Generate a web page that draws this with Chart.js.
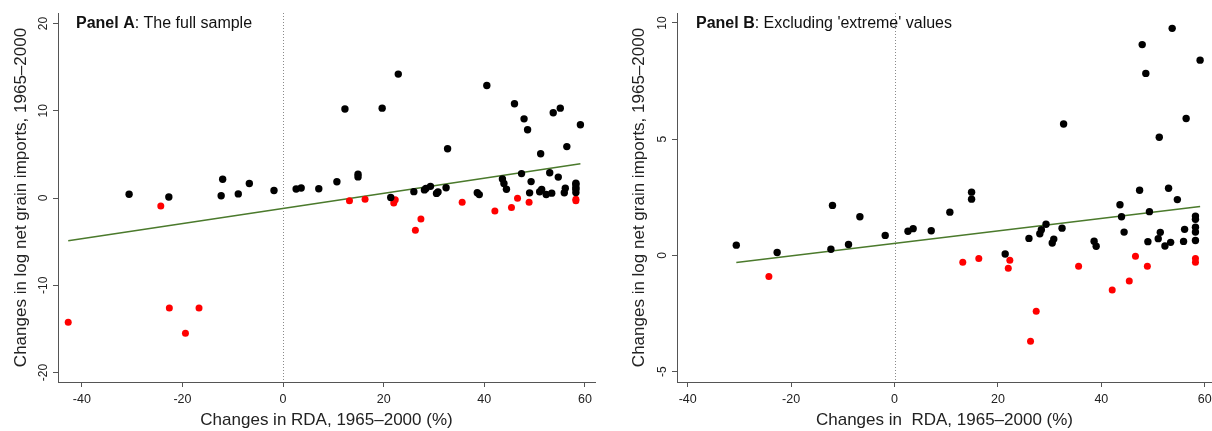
<!DOCTYPE html>
<html><head><meta charset="utf-8">
<script src="https://cdn.jsdelivr.net/npm/chart.js@4"></script>
<style>
html,body{margin:0;padding:0;background:#fff;overflow:hidden;width:1212px;height:431px}
#a{position:absolute;left:0;top:0}
#b{position:absolute;left:600px;top:0}
</style></head><body>
<canvas id="a" width="600" height="431"></canvas>
<canvas id="b" width="630" height="431"></canvas>
<script>
// ---- data ----
// countries kept in both panels (black)
const blackRDA = [-30.6,-22.7,-12.3,-12.0,-8.9,-6.7,-1.8,2.6,3.6,7.1,10.7,14.9,14.9,21.4,26.0,28.1,28.4,29.3,30.5,30.8,32.4,32.7,38.6,39.0,43.6,43.9,44.4,47.4,47.9,48.6,49.0,49.3,51.0,51.4,51.2,52.3,53.0,53.4,53.7,54.7,55.9,56.1,56.4,58.2,58.2,58.2,58.2,58.2,59.1];
const blackImports = [0.44,0.12,0.26,2.15,0.47,1.66,0.86,1.04,1.15,1.06,1.86,2.72,2.42,0.06,0.73,0.93,1.10,1.34,0.53,0.70,1.17,5.65,0.61,0.39,2.18,1.66,1.00,2.80,9.07,7.83,0.59,1.88,0.72,0.99,5.08,0.40,2.89,0.56,9.77,2.40,0.60,1.12,5.89,1.69,1.55,1.21,1.00,0.64,8.40];
// countries kept in both panels (red)
const redRDA = [-24.3,13.2,16.3,22.3,22.0,26.3,27.4,35.6,42.1,45.4,46.6,48.9,58.2,58.2];
const redImports = [-0.91,-0.30,-0.14,-0.21,-0.56,-3.70,-2.40,-0.47,-1.49,-1.10,-0.04,-0.47,-0.14,-0.30];
// 'extreme' values, only in Panel A
const extremeBlackRDA = [12.3,19.7,22.9,40.5,46.0,55.1];
const extremeBlackImports = [10.2,10.3,14.2,12.9,10.8,10.3];
const extremeRedRDA = [-42.7,-22.6,-19.4,-16.7];
const extremeRedImports = [-14.24,-12.6,-15.5,-12.6];
// fitted lines (end points)
const fitARDA = [-42.7,59.1];
const fitAImports = [-4.89,3.93];
const fitBRDA = [-30.6,59.1];
const fitBImports = [-0.31,2.10];
// axes
const xTicks = [-40,-20,0,20,40,60];
const yTicksA = [-20,-10,0,10,20];
const yTicksB = [-5,0,5,10];
const xRangeA = [-44.73,62.0];
const yRangeA = [-21.08,21.2];
const xRangeB = [-42.07,61.4];
const yRangeB = [-5.45,10.43];
const refLineX = 0;

const FONT = '"Liberation Sans", Arial, Helvetica, sans-serif';
const zip = (xs, ys) => xs.map((x, i) => ({x, y: ys[i]}));

const rotYTicks = {
  id: 'rotYTicks',
  afterDraw(chart) {
    const ys = chart.scales.y, ctx = chart.ctx;
    ctx.save();
    ctx.font = '12px ' + FONT;
    ctx.fillStyle = '#222';
    ctx.textAlign = 'center';
    ctx.textBaseline = 'alphabetic';
    ys.ticks.forEach(t => {
      const py = ys.getPixelForValue(t.value);
      ctx.save();
      ctx.translate(ys.right - 11.5, py);
      ctx.rotate(-Math.PI / 2);
      ctx.fillText(String(t.value), 0, 0);
      ctx.restore();
    });
    ctx.restore();
  }
};
const refLine = {
  id: 'refLine',
  beforeDatasetsDraw(chart) {
    const xs = chart.scales.x, ca = chart.chartArea, ctx = chart.ctx;
    const px = Math.round(xs.getPixelForValue(refLineX)) + 0.5;
    ctx.save();
    ctx.strokeStyle = '#8a8a8a';
    ctx.lineWidth = 1;
    ctx.setLineDash([1, 2]);
    ctx.beginPath();
    ctx.moveTo(px, ca.top);
    ctx.lineTo(px, ca.bottom);
    ctx.stroke();
    ctx.restore();
  }
};
const panelTitle = {
  id: 'panelTitle',
  afterDraw(chart, args, opts) {
    const ctx = chart.ctx, ca = chart.chartArea;
    ctx.save();
    ctx.fillStyle = '#111';
    ctx.textBaseline = 'middle';
    ctx.textAlign = 'left';
    const x0 = ca.left + opts.dx, y0 = 24;
    ctx.font = 'bold 16px ' + FONT;
    ctx.fillText(opts.bold, x0, y0);
    const w = ctx.measureText(opts.bold).width;
    ctx.font = '16px ' + FONT;
    ctx.fillText(opts.rest, x0 + w, y0);
    ctx.restore();
  }
};

function makeChart(id, cfg) {
  const datasets = [
    {type: 'line', data: zip(cfg.fitX, cfg.fitY), borderColor: '#4b7a2c', borderWidth: 1.6, pointRadius: 0, fill: false, order: 3},
    {type: 'scatter', data: cfg.black, backgroundColor: '#000', borderColor: '#000', borderWidth: 0, pointRadius: 3.7, order: 1},
    {type: 'scatter', data: cfg.red, backgroundColor: '#ff0000', borderColor: '#ff0000', borderWidth: 0, pointRadius: 3.5, order: 2}
  ];
  return new Chart(document.getElementById(id), {
    type: 'scatter',
    data: {datasets},
    options: {
      responsive: false,
      animation: false,
      devicePixelRatio: 1,
      layout: {padding: {left: 0, right: cfg.padRight, top: 13, bottom: 0}},
      plugins: {legend: {display: false}, tooltip: {enabled: false},
        panelTitle: {bold: cfg.titleBold, rest: cfg.titleRest, dx: cfg.titleDx}},
      scales: {
        x: {
          type: 'linear', min: cfg.xRange[0], max: cfg.xRange[1],
          afterBuildTicks: s => { s.ticks = xTicks.map(v => ({value: v})); },
          afterFit: s => { s.height = 49; },
          grid: {drawOnChartArea: false, drawTicks: true, tickLength: 5, tickColor: '#555', tickWidth: 1},
          border: {display: true, color: '#555', width: 1},
          ticks: {font: {family: FONT, size: 12.5}, color: '#222', padding: 5, maxRotation: 0, minRotation: 0, callback: v => String(v)},
          title: {display: true, text: cfg.xTitle, font: {family: FONT, size: 17}, color: '#222', padding: {top: 0, bottom: 0}}
        },
        y: {
          type: 'linear', min: cfg.yRange[0], max: cfg.yRange[1],
          afterBuildTicks: s => { s.ticks = cfg.yTicks.map(v => ({value: v})); },
          afterFit: s => { s.width = cfg.yAxisLeft; },
          grid: {drawOnChartArea: false, drawTicks: true, tickLength: 5, tickColor: '#555', tickWidth: 1},
          border: {display: true, color: '#555', width: 1},
          ticks: {display: false},
          title: {display: true, text: 'Changes in log net grain imports, 1965\u20132000', font: {family: FONT, size: 17}, color: '#222', padding: {top: cfg.yTitlePad, bottom: 0}}
        }
      }
    },
    plugins: [refLine, rotYTicks, panelTitle]
  });
}

makeChart('a', {
  black: zip(blackRDA, blackImports).concat(zip(extremeBlackRDA, extremeBlackImports)),
  red: zip(redRDA, redImports).concat(zip(extremeRedRDA, extremeRedImports)),
  fitX: fitARDA, fitY: fitAImports,
  xRange: xRangeA, yRange: yRangeA, yTicks: yTicksA,
  padRight: 5, yAxisLeft: 58, yTitlePad: 11,
  titleBold: 'Panel A', titleRest: ': The full sample', titleDx: 18,
  xTitle: 'Changes in RDA, 1965\u20132000 (%)'
});
makeChart('b', {
  black: zip(blackRDA, blackImports),
  red: zip(redRDA, redImports),
  fitX: fitBRDA, fitY: fitBImports,
  xRange: xRangeB, yRange: yRangeB, yTicks: yTicksB,
  padRight: 18, yAxisLeft: 77, yTitlePad: 29,
  titleBold: 'Panel B', titleRest: ": Excluding 'extreme' values", titleDx: 19,
  xTitle: 'Changes in  RDA, 1965\u20132000 (%)'
});
</script>
</body></html>
